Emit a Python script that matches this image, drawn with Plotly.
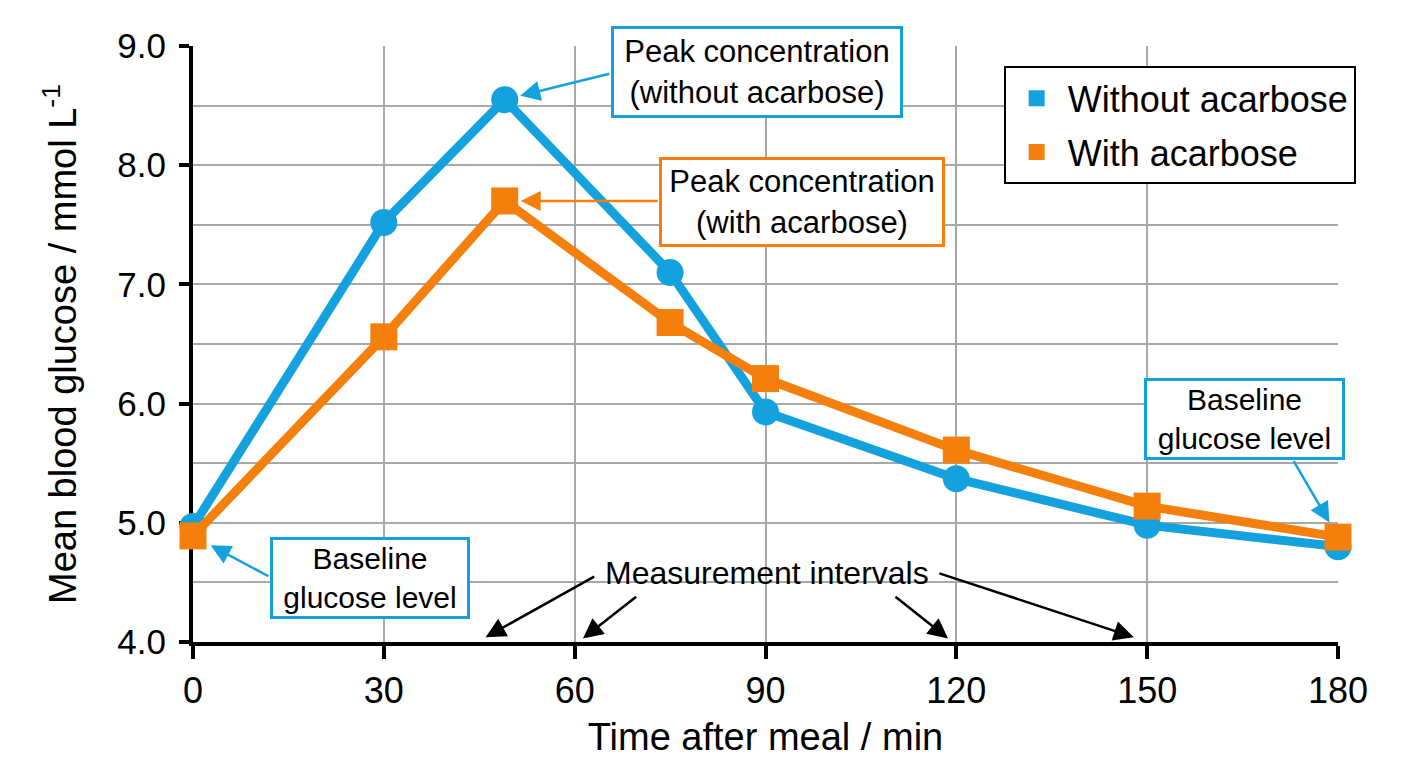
import plotly.graph_objects as go

# values
time_min = [0, 30, 49, 75, 90, 120, 150, 180]
glucose_without = [4.97, 7.52, 8.55, 7.10, 5.93, 5.37, 4.98, 4.80]
glucose_with = [4.89, 6.56, 7.70, 6.68, 6.21, 5.61, 5.14, 4.88]

x_ticks = [0, 30, 60, 90, 120, 150, 180]
y_ticks = [4.0, 5.0, 6.0, 7.0, 8.0, 9.0]

BLUE = '#14A2DE'
ORANGE = '#F57F0C'
GRID = '#A8A8A8'
FONT = 'Liberation Sans, Arial, sans-serif'

peak_wo = glucose_without.index(max(glucose_without))
peak_w = glucose_with.index(max(glucose_with))


def box(text, x, y, w, h, color, size=31):
    return dict(x=x, y=y, xref='x', yref='y', text=text, showarrow=False,
                font=dict(family=FONT, size=size, color='black'),
                bordercolor=color, borderwidth=3, borderpad=2, bgcolor='white',
                width=w, height=h, align='center', valign='middle')


def arrow(x, y, ax, ay, color, standoff=0):
    return dict(x=x, y=y, ax=ax, ay=ay, xref='x', yref='y', axref='x', ayref='y',
                text='', showarrow=True, arrowhead=2, arrowsize=1.6,
                arrowwidth=2.5, arrowcolor=color, standoff=standoff)


fig = go.Figure()

fig.add_trace(go.Scatter(
    x=time_min, y=glucose_without, mode='lines+markers', name='Without acarbose',
    line=dict(color=BLUE, width=9), marker=dict(symbol='circle', size=27, color=BLUE),
    cliponaxis=False, showlegend=False))
fig.add_trace(go.Scatter(
    x=time_min, y=glucose_with, mode='lines+markers', name='With acarbose',
    line=dict(color=ORANGE, width=9), marker=dict(symbol='square', size=27, color=ORANGE),
    cliponaxis=False, showlegend=False))

# legend entries: plain squares like the original key
fig.add_trace(go.Scatter(x=[None], y=[None], mode='markers', name='Without acarbose',
                         legendgroup='a', marker=dict(symbol='square', size=16, color=BLUE)))
fig.add_trace(go.Scatter(x=[None], y=[None], mode='markers', name='With acarbose',
                         legendgroup='b', marker=dict(symbol='square', size=16, color=ORANGE)))

annotations = [
    box('Peak concentration<br>(without acarbose)', 88.7, 8.78, 282, 82, BLUE),
    arrow(time_min[peak_wo], glucose_without[peak_wo], 65.7, 8.77, BLUE, 16),
    box('Peak concentration<br>(with acarbose)', 95.7, 7.69, 276, 80, ORANGE),
    arrow(time_min[peak_w], glucose_with[peak_w], 73.3, 7.70, ORANGE, 16),
    box('Baseline<br>glucose level', 27.8, 4.54, 190, 72, BLUE, 30),
    arrow(time_min[0], glucose_with[0], 12.1, 4.545, BLUE, 20),
    box('Baseline<br>glucose level', 165.3, 5.87, 191, 72, BLUE, 30),
    arrow(time_min[-1], glucose_with[-1], 172.9, 5.53, BLUE, 17),
    dict(x=90.2, y=4.58, xref='x', yref='y', text='Measurement intervals',
         showarrow=False, font=dict(family=FONT, size=32, color='black')),
    arrow(46, 4.04, 63.3, 4.555, 'black'),
    arrow(61.3, 4.03, 69.9, 4.39, 'black'),
    arrow(118.7, 4.03, 110.2, 4.39, 'black'),
    arrow(147.9, 4.04, 117.1, 4.58, 'black'),
]

# the page body has an 8px margin, so the figure is a bit smaller than the window
fig.update_layout(
    width=1392, height=752,
    margin=dict(l=185, r=62, t=38, b=118),
    paper_bgcolor='white', plot_bgcolor='white',
    font=dict(family=FONT, color='black'),
    annotations=annotations,
    legend=dict(x=0.708, y=0.966, xanchor='left', yanchor='top',
                bordercolor='black', borderwidth=2, bgcolor='white',
                font=dict(family=FONT, size=36), tracegroupgap=4, itemwidth=52),
)

fig.update_xaxes(
    range=[0, 180], tickvals=x_ticks, showgrid=True, gridcolor=GRID, gridwidth=1.5,
    zeroline=False, showline=True, linecolor='black', linewidth=4,
    ticks='outside', ticklen=13, tickwidth=4, tickcolor='black',
    tickfont=dict(size=36), ticklabelstandoff=1, layer='below traces',
    automargin=False,
    title=dict(text='Time after meal / min', font=dict(size=38), standoff=14),
)
fig.update_yaxes(
    range=[4, 9], tickvals=y_ticks, tickformat='.1f', showgrid=True,
    gridcolor=GRID, gridwidth=1.5,
    minor=dict(dtick=0.5, showgrid=True, gridcolor=GRID, gridwidth=1.5),
    zeroline=False, showline=True, linecolor='black', linewidth=4,
    ticks='outside', ticklen=10, tickwidth=4, tickcolor='black',
    tickfont=dict(size=35), ticklabelstandoff=6, layer='below traces',
    automargin=False,
    title=dict(text='Mean blood glucose / mmol L<sup>-1</sup>', font=dict(size=38), standoff=30),
)

fig.write_html("out.html")
